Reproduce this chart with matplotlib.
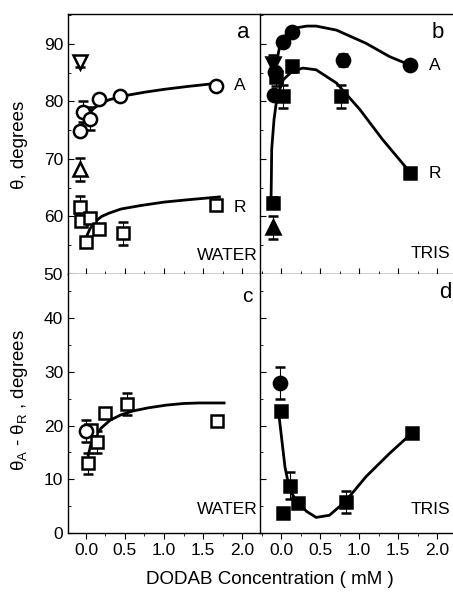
import matplotlib
matplotlib.use("Agg")
import matplotlib.pyplot as plt
from matplotlib.ticker import MultipleLocator

plt.rcParams['font.family'] = ['Liberation Sans', 'DejaVu Sans']
plt.rcParams['mathtext.default'] = 'regular'

W, H = 453, 598

# ---------------- Panel a (WATER) ----------------
a_circ_x = [-0.08, -0.04, 0.05, 0.17, 0.44, 1.67]
a_circ_y = [74.8, 78.2, 77.0, 80.4, 81.0, 82.6]
a_circ_err = [0.0, 1.8, 2.0, 0.0, 0.0, 0.6]
a_sq_x = [-0.08, -0.06, 0.05, 0.0, 0.17, 0.47, 1.67]
a_sq_y = [61.7, 59.3, 59.8, 55.5, 57.8, 57.1, 62.0]
a_sq_err = [1.8, 0.0, 0.0, 0.0, 0.0, 2.0, 0.5]
a_invtri = (-0.08, 86.8, 0.8)
a_tri = (-0.08, 68.2, 2.0)
a_curveA_x = [-0.08, -0.05, 0.0, 0.05, 0.1, 0.2, 0.3, 0.5, 0.75, 1.0, 1.3, 1.71]
a_curveA_y = [75.4, 75.9, 76.8, 78.0, 78.8, 79.7, 80.3, 81.0, 81.6, 82.1, 82.6, 83.2]
a_curveR_x = [-0.03, 0.0, 0.05, 0.1, 0.2, 0.3, 0.45, 0.7, 1.0, 1.3, 1.71]
a_curveR_y = [55.0, 56.3, 57.8, 58.9, 60.0, 60.6, 61.3, 61.9, 62.5, 62.9, 63.4]

# ---------------- Panel b (TRIS) ----------------
b_circ_x = [-0.09, -0.08, 0.03, 0.14, 0.79, 1.65]
b_circ_y = [81.2, 85.2, 90.4, 92.0, 87.2, 86.4]
b_circ_err = [0.0, 0.0, 0.0, 0.0, 1.0, 0.6]
b_sq_x = [-0.10, -0.06, 0.03, 0.14, 0.77, 1.65]
b_sq_y = [62.4, 84.2, 80.9, 86.1, 80.9, 67.6]
b_sq_err = [1.0, 1.5, 2.0, 1.0, 2.0, 0.6]
b_invtri = (-0.10, 86.5, 1.5)
b_tri = (-0.10, 58.1, 2.0)
b_curveA_x = [-0.08, -0.01, 0.09, 0.2, 0.33, 0.45, 0.71, 1.09, 1.39, 1.64]
b_curveA_y = [85.2, 90.1, 92.1, 92.8, 93.1, 93.1, 92.4, 90.1, 87.8, 86.4]
b_curveR_x = [-0.13, -0.125, -0.12, -0.09, -0.05, 0.03, 0.14, 0.28, 0.45, 0.71, 1.01, 1.30, 1.64]
b_curveR_y = [61.9, 66.0, 71.7, 76.9, 80.9, 83.8, 85.2, 85.8, 85.5, 83.2, 78.6, 73.4, 67.9]

# ---------------- Panel c (WATER, hysteresis) ----------------
c_circ_x = [0.0]
c_circ_y = [19.0]
c_circ_err = [2.0]
c_sq_x = [0.02, 0.07, 0.14, 0.24, 0.53, 1.68]
c_sq_y = [12.95, 19.1, 16.9, 22.4, 24.0, 20.9]
c_sq_err = [2.0, 0.0, 2.0, 0.0, 2.0, 0.5]
c_curve_x = [0.03, 0.06, 0.11, 0.2, 0.31, 0.45, 0.60, 0.8, 1.03, 1.25, 1.45, 1.77]
c_curve_y = [14.5, 16.3, 17.9, 19.6, 21.0, 22.0, 22.7, 23.3, 23.8, 24.1, 24.2, 24.2]

# ---------------- Panel d (TRIS, hysteresis) ----------------
d_circ_x = [-0.01]
d_circ_y = [27.9]
d_circ_err = [3.0]
d_sq_x = [0.0, 0.11, 0.02, 0.22, 0.83, 1.68]
d_sq_y = [22.7, 8.8, 3.7, 5.6, 5.8, 18.7]
d_sq_err = [0.0, 2.5, 0.0, 0.0, 2.0, 0.0]
d_curve_x = [-0.03, 0.01, 0.05, 0.11, 0.22, 0.33, 0.45, 0.62, 0.82, 1.09, 1.39, 1.67]
d_curve_y = [22.3, 17.3, 12.3, 8.0, 5.5, 4.0, 2.9, 3.3, 5.8, 10.5, 14.8, 18.5]

x_ticks = [0.0, 0.5, 1.0, 1.5, 2.0]
x_ticklabels = ['0.0', '0.5', '1.0', '1.5', '2.0']
top_yticks = [50, 60, 70, 80, 90]
bot_yticks = [0, 10, 20, 30, 40]

fig = plt.figure(figsize=(W / 100, H / 100), dpi=100)

def fpos(x0, y0, x1, y1):
    return [x0 / W, 1 - y1 / H, (x1 - x0) / W, (y1 - y0) / H]

ax_a = fig.add_axes(fpos(68, 14, 260, 274))
ax_b = fig.add_axes(fpos(260, 14, 455, 274))
ax_c = fig.add_axes(fpos(68, 274, 260, 533))
ax_d = fig.add_axes(fpos(260, 274, 455, 533))

MS = 9.5
MS_SQ = 9.0
MS_TRI = 10.5
MEW = 1.8
LW = 2.0
ELW = 0.8
CAP = 3.5


def eb(ax, x, y, err, marker, filled, ms=MS):
    fc = 'black' if filled else 'white'
    ax.errorbar(x, y, yerr=err, fmt=marker, ms=ms, mfc=fc, mec='black',
                mew=MEW, ecolor='black', elinewidth=ELW, capsize=CAP,
                capthick=ELW, zorder=3, clip_on=False)


# panel a
ax_a.plot(a_curveA_x, a_curveA_y, color='black', lw=LW, zorder=2)
ax_a.plot(a_curveR_x, a_curveR_y, color='black', lw=LW, zorder=2)
eb(ax_a, a_circ_x, a_circ_y, a_circ_err, 'o', False)
eb(ax_a, a_sq_x, a_sq_y, a_sq_err, 's', False, ms=MS_SQ)
eb(ax_a, [a_invtri[0]], [a_invtri[1]], [a_invtri[2]], 'v', False, ms=MS_TRI)
eb(ax_a, [a_tri[0]], [a_tri[1]], [a_tri[2]], '^', False, ms=MS_TRI)

# panel b
ax_b.plot(b_curveA_x, b_curveA_y, color='black', lw=LW, zorder=2)
ax_b.plot(b_curveR_x, b_curveR_y, color='black', lw=LW, zorder=2)
eb(ax_b, b_circ_x, b_circ_y, b_circ_err, 'o', True)
eb(ax_b, b_sq_x, b_sq_y, b_sq_err, 's', True, ms=MS_SQ)
eb(ax_b, [b_invtri[0]], [b_invtri[1]], [b_invtri[2]], 'v', True, ms=MS_TRI)
eb(ax_b, [b_tri[0]], [b_tri[1]], [b_tri[2]], '^', True, ms=MS_TRI)

# panel c
ax_c.plot(c_curve_x, c_curve_y, color='black', lw=LW, zorder=2)
eb(ax_c, c_sq_x, c_sq_y, c_sq_err, 's', False, ms=MS_SQ)
eb(ax_c, c_circ_x, c_circ_y, c_circ_err, 'o', False)

# panel d
ax_d.plot(d_curve_x, d_curve_y, color='black', lw=LW, zorder=2)
eb(ax_d, d_sq_x, d_sq_y, d_sq_err, 's', True, ms=MS_SQ)
eb(ax_d, d_circ_x, d_circ_y, d_circ_err, 'o', True)

FS = 12.5
for ax, left in [(ax_a, True), (ax_b, False), (ax_c, True), (ax_d, False)]:
    ax.set_xlim(-0.23 if left else -0.27, 2.23)
    ax.set_xticks(x_ticks)
    ax.xaxis.set_minor_locator(MultipleLocator(0.25))
    ax.spines['right'].set_visible(False)
    for s in ax.spines.values():
        s.set_linewidth(1.0)
    ax.tick_params(axis='y', which='both', direction='in', right=False)
    ax.tick_params(axis='y', which='major', length=4)
    ax.tick_params(axis='y', which='minor', length=2)
    ax.tick_params(labelsize=FS)

for ax in (ax_a, ax_b):
    ax.set_ylim(50, 95.2)
    ax.set_yticks(top_yticks)
    ax.yaxis.set_minor_locator(MultipleLocator(5))
    ax.tick_params(axis='x', which='both', direction='in', labelbottom=False)
    ax.tick_params(axis='x', which='major', length=4)
    ax.tick_params(axis='x', which='minor', length=2)

for ax in (ax_c, ax_d):
    ax.set_ylim(0, 48.2)
    ax.set_yticks(bot_yticks)
    ax.yaxis.set_minor_locator(MultipleLocator(5))
    ax.set_xticklabels(x_ticklabels)
    ax.tick_params(axis='x', which='both', direction='out')
    ax.tick_params(axis='x', which='major', length=4, pad=3)
    ax.tick_params(axis='x', which='minor', length=2)
    ax.spines['top'].set_visible(False)

ax_b.tick_params(axis='y', labelleft=False)
ax_d.tick_params(axis='y', labelleft=False)


def ftext(px, py, s, **kw):
    fig.text(px / W, 1 - py / H, s, **kw)


ftext(243, 32, 'a', fontsize=16, ha='center', va='center')
ftext(438, 32, 'b', fontsize=16, ha='center', va='center')
ftext(247, 296, 'c', fontsize=15, ha='center', va='center')
ftext(445, 293, 'd', fontsize=16, ha='center', va='center')
ftext(240, 85, 'A', fontsize=FS, ha='center', va='center')
ftext(240, 207, 'R', fontsize=FS, ha='center', va='center')
ftext(435, 65, 'A', fontsize=FS, ha='center', va='center')
ftext(435, 174, 'R', fontsize=FS, ha='center', va='center')
ftext(258, 255, 'WATER', fontsize=FS, ha='right', va='center')
ftext(258, 510, 'WATER', fontsize=FS, ha='right', va='center')
ftext(450, 253, 'TRIS', fontsize=FS, ha='right', va='center')
ftext(450, 510, 'TRIS', fontsize=FS, ha='right', va='center')

ftext(20, 145, 'θ, degrees', fontsize=13.5, ha='center', va='center', rotation=90)
ftext(20, 400, 'θ$_A$ - θ$_R$ , degrees', fontsize=13.5, ha='center', va='center',
      rotation=90)
ftext(270, 579, 'DODAB Concentration ( mM )', fontsize=13.5, ha='center', va='center')

fig.savefig('out.png', dpi=100)
